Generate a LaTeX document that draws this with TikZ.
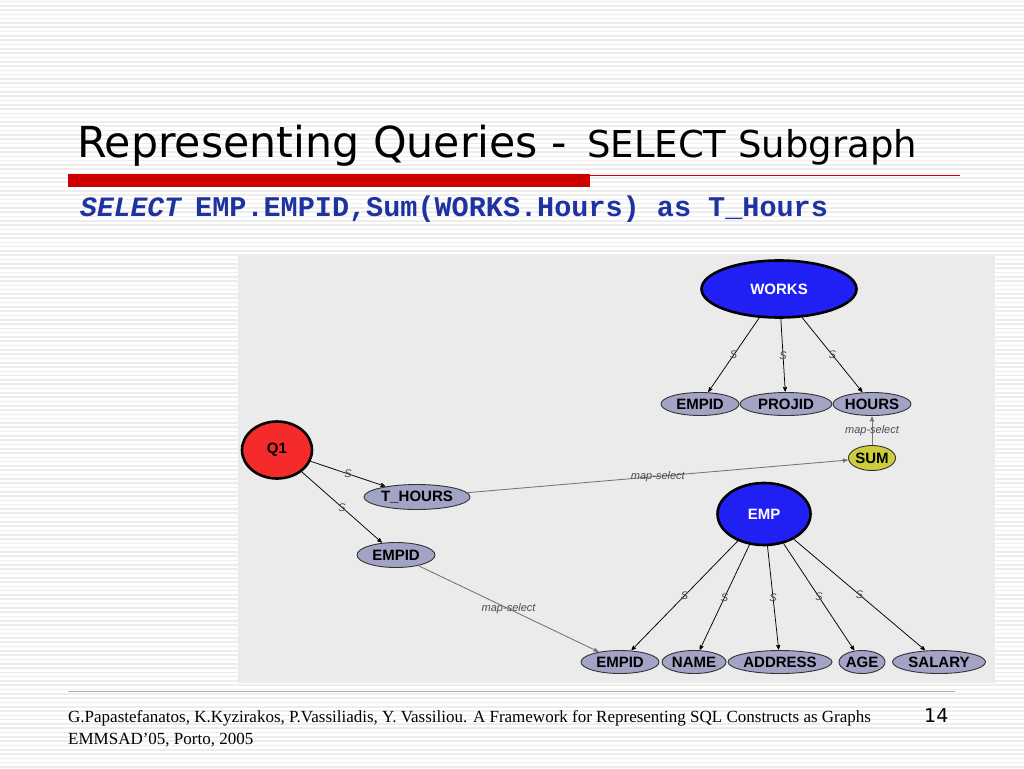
\documentclass[tikz,border=0pt]{standalone}
\usepackage{fontspec}
\setmainfont{Liberation Serif}
\setsansfont{Liberation Sans}
\setmonofont{Liberation Mono}
\newfontfamily\titlefont{DejaVu Sans}
\usetikzlibrary{shapes.geometric, positioning, arrows}
\definecolor{panelgray}{RGB}{235,235,235}
\definecolor{relblue}{RGB}{32,32,245}
\definecolor{queryred}{RGB}{245,42,42}
\definecolor{funcyellow}{RGB}{204,204,60}
\definecolor{attrgray}{RGB}{163,163,198}
\definecolor{codeblue}{RGB}{30,50,160}
\definecolor{barred}{RGB}{204,0,0}
\definecolor{footline}{RGB}{195,165,165}
\tikzset{x=1pt, y=-1pt, % one unit is one pixel of the slide
stripe/.style={draw=gray!14, line width=1.6pt},
every node/.style={inner sep=0pt},
relation/.style={ % tables of the schema
ellipse, draw=black, line width=2.6pt, fill=relblue,
text=white, font=\sffamily\bfseries\fontsize{15}{15}\selectfont},
query/.style={relation, fill=queryred, text=black},
attribute/.style={ % attributes of a table
ellipse, draw=black!80, line width=0.9pt, fill=attrgray,
minimum height=23pt, font=\sffamily\bfseries\fontsize{15}{15}\selectfont},
function/.style={attribute, fill=funcyellow},
elabel/.style={font=\sffamily\itshape\fontsize{11}{11}\selectfont, text=black!70},
sedge/.style={draw=black, line width=0.75pt, ->, >=stealth', shorten >=0.5pt},
mapedge/.style={draw=black!55, line width=0.85pt, ->, >=stealth', shorten >=0.5pt}}
\begin{document}
\begin{tikzpicture}

    \useasboundingbox (0,0) rectangle (1024,768);
    \fill[white] (0,0) rectangle (1024,768);
    \foreach \y in {1.5,5.8,...,768} \draw[stripe] (0,\y) -- (1024,\y);

    % title and query
    \node[anchor=base west, font=\titlefont\fontsize{42.7}{42.7}\selectfont] (title) at (77,157)
        {Representing Queries -};
    \node[anchor=base west, font=\titlefont\fontsize{37}{37}\selectfont] (subtitle) at (587,157)
        {SELECT Subgraph};
    \fill[barred] (68,174) rectangle (590,187);
    \draw[barred, line width=0.8pt] (590,175) -- (960,175);
    \node[anchor=base west, text=codeblue, font=\ttfamily\bfseries\itshape\fontsize{28}{28}\selectfont] (sqlkey) at (80,216)
        {SELECT};
    \node[anchor=base west, text=codeblue, font=\ttfamily\bfseries\fontsize{28.5}{28.5}\selectfont] (sql) at (195,216)
        {EMP.EMPID,Sum(WORKS.Hours) as T\_Hours};

    % graph panel
    \fill[panelgray] (238,256) rectangle (995,683);

    \node[relation, minimum width=155pt, minimum height=57pt] (works) at (779,289) {WORKS};
    \node[attribute, minimum width=78pt] (wempid) at (700,404) {EMPID};
    \node[attribute, minimum width=92pt] (wprojid) at (786,404) {PROJID};
    \node[attribute, minimum width=78pt] (whours) at (872,404) {HOURS};
    \node[function, minimum width=47pt, minimum height=25pt] (sum) at (872,458) {SUM};

    \node[query, minimum width=70pt, minimum height=57pt] (q1) at (277,450) {Q1};
    \node[attribute, minimum width=106pt, minimum height=25pt] (thours) at (417,497) {T\_HOURS};
    \node[attribute, minimum width=78pt, minimum height=25pt] (qempid) at (396,555) {EMPID};

    \node[relation, minimum width=93pt, minimum height=62pt] (emp) at (764,514) {EMP};
    \node[attribute, minimum width=78pt] (eempid) at (620,662) {EMPID};
    \node[attribute, minimum width=64pt] (ename) at (694,662) {NAME};
    \node[attribute, minimum width=104pt] (eaddress) at (780,662) {ADDRESS};
    \node[attribute, minimum width=46pt] (eage) at (862,662) {AGE};
    \node[attribute, minimum width=93pt] (esalary) at (939,662) {SALARY};

    \draw[sedge] (works) -- node[elabel] {S} (wempid);
    \draw[sedge] (works) -- node[elabel] {S} (wprojid);
    \draw[sedge] (works) -- node[elabel] {S} (whours);

    \draw[sedge] (q1) -- node[elabel] {S} (thours);
    \draw[sedge] (q1) -- node[elabel] {S} (qempid);

    \draw[sedge] (emp) -- node[elabel] {S} (eempid);
    \draw[sedge] (emp) -- node[elabel] {S} (ename);
    \draw[sedge] (emp) -- node[elabel] {S} (eaddress);
    \draw[sedge] (emp) -- node[elabel] {S} (eage);
    \draw[sedge] (emp) -- node[elabel] {S} (esalary);

    \draw[mapedge] (sum) -- node[elabel] {map-select} (whours);
    \draw[mapedge] (thours) -- node[elabel] {map-select} (sum);
    \draw[mapedge] (qempid) -- node[elabel] {map-select} (eempid);

    % footer
    \draw[footline, line width=0.8pt] (68,691) -- (955,691);
    \node[anchor=base west, font=\rmfamily\fontsize{17}{17}\selectfont] (cite) at (68,722)
        {G.Papastefanatos, K.Kyzirakos, P.Vassiliadis, Y. Vassiliou. A Framework for Representing SQL Constructs as Graphs};
    \node[anchor=base west, font=\rmfamily\fontsize{17}{17}\selectfont] (venue) at (68,744)
        {EMMSAD'05, Porto, 2005};
    \node[anchor=base west, font=\titlefont\fontsize{19}{19}\selectfont] (page) at (924,722) {14};

\end{tikzpicture}
\end{document}
